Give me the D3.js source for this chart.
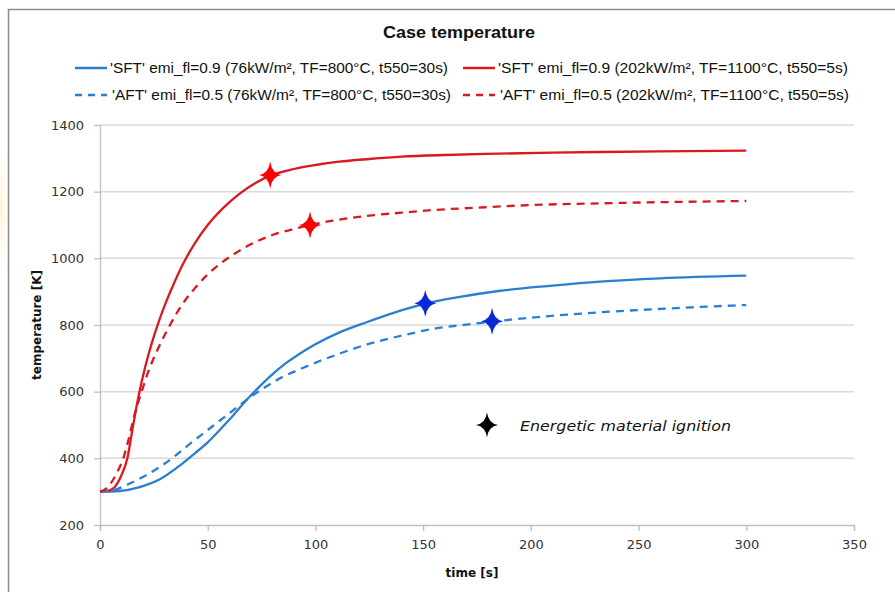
<!DOCTYPE html>
<html>
<head>
<meta charset="utf-8">
<script src="https://cdn.jsdelivr.net/npm/d3@7"></script>
<style>
  body { margin: 0; background: #fff; }
  svg { display: block; }
</style>
</head>
<body>
<div id="chart"></div>
<script>
// data
var xTicks = [0, 50, 100, 150, 200, 250, 300, 350];
var yTicks = [200, 400, 600, 800, 1000, 1200, 1400];

var sftLowTime = [0, 9, 18, 28, 37, 44, 50, 56, 62, 68, 74, 80, 86, 92, 100, 112, 124, 137, 151, 165, 185, 210, 232, 260, 300];
var sftLowTemp = [300, 302, 313, 338, 378, 415, 448, 488, 530, 575, 615, 652, 684, 711, 742, 780, 809, 838, 864, 882, 902, 918, 930, 940, 948];

var aftLowTime = [0, 8, 14, 21, 28, 35, 42, 49, 56, 62, 68, 77, 85, 93, 102, 112, 124, 140, 155, 170, 182, 200, 232, 265, 300];
var aftLowTemp = [300, 308, 325, 348, 375, 408, 445, 480, 515, 545, 575, 615, 645, 668, 692, 716, 742, 768, 789, 801, 810, 822, 838, 850, 860];

var sftHighTime = [0, 4, 7, 10, 12.7, 15, 18, 21, 24, 27, 30, 34, 38.7, 44, 50, 57, 65, 72, 79, 90, 100, 111, 125, 140, 160, 185, 210, 232, 260, 300];
var sftHighTemp = [300, 303, 315, 350, 400, 485, 590, 675, 745, 805, 858, 920, 985, 1045, 1100, 1150, 1195, 1225, 1248, 1268, 1280, 1290, 1298, 1305, 1310, 1314, 1317, 1319, 1321, 1323];

var aftHighTime = [0, 3, 6, 8.5, 10.8, 13, 16, 19.3, 23, 27, 32.5, 38, 44, 50, 56, 62, 70, 80, 90, 97.5, 108, 125, 140, 155, 175, 201, 232, 265, 300];
var aftHighTemp = [300, 310, 335, 365, 400, 450, 530, 600, 670, 730, 800, 860, 910, 952, 985, 1012, 1042, 1070, 1088, 1100, 1113, 1128, 1137, 1145, 1152, 1160, 1165, 1169, 1172];

var seriesNames = [
  "'SFT' emi_fl=0.9 (76kW/m², TF=800°C, t550=30s)",
  "'SFT' emi_fl=0.9 (202kW/m², TF=1100°C, t550=5s)",
  "'AFT' emi_fl=0.5 (76kW/m², TF=800°C, t550=30s)",
  "'AFT' emi_fl=0.5 (202kW/m², TF=1100°C, t550=5s)"
];

var igniteTime = [79, 97.5, 151, 182];
var igniteTemp = [1250, 1100, 865, 811];
var igniteKind = ["red", "red", "blue", "blue"];

var blue = "#2a7fd0";
var red = "#d91920";

var svgWidth = 895, svgHeight = 592;
var margin = {top: 125, right: 41, bottom: 67, left: 100};
var width = svgWidth - margin.left - margin.right;
var height = svgHeight - margin.top - margin.bottom;

var svg = d3.select("#chart").append("svg")
  .attr("width", svgWidth)
  .attr("height", svgHeight);

// faint glow on the far left, outside the frame
var defs = svg.append("defs");
var grad = defs.append("radialGradient").attr("id", "glow");
grad.append("stop").attr("offset", "0%").attr("stop-color", "#fff3d6");
grad.append("stop").attr("offset", "100%").attr("stop-color", "#ffffff").attr("stop-opacity", 0);
svg.append("ellipse")
  .attr("cx", 0).attr("cy", 210).attr("rx", 14).attr("ry", 90)
  .attr("fill", "url(#glow)");

// outer frame
svg.append("rect")
  .attr("x", 8.5).attr("y", 9.5)
  .attr("width", 900).attr("height", 600)
  .attr("fill", "#fff")
  .attr("stroke", "#8a8a8a")
  .attr("stroke-width", 1.5);

var chartGroup = svg.append("g")
  .attr("transform", `translate(${margin.left}, ${margin.top})`);

var xScale = d3.scaleLinear().domain([0, 350]).range([0, width]);
var yScale = d3.scaleLinear().domain([200, 1400]).range([height, 0]);

// gridlines
chartGroup.append("g")
  .selectAll("line")
  .data(yTicks.slice(1))
  .enter()
  .append("line")
  .attr("x1", 0)
  .attr("x2", width)
  .attr("y1", d => yScale(d))
  .attr("y2", d => yScale(d))
  .attr("stroke", "#d9d9d9")
  .attr("stroke-width", 1.5);

// axes
var xAxis = d3.axisBottom(xScale).tickValues(xTicks).tickFormat(d3.format("d"))
  .tickSizeInner(6).tickSizeOuter(6).tickPadding(9);
var yAxis = d3.axisLeft(yScale).tickValues(yTicks).tickFormat(d3.format("d"))
  .tickSizeInner(6).tickSizeOuter(0).tickPadding(10);

var gx = chartGroup.append("g")
  .attr("transform", `translate(0,${height})`)
  .call(xAxis);
var gy = chartGroup.append("g").call(yAxis);

[gx, gy].forEach(function (g) {
  g.selectAll("path, line").attr("stroke", "#bfbfbf").attr("stroke-width", 1.3);
  g.selectAll("text")
    .attr("fill", "#333")
    .attr("font-family", "'DejaVu Sans', Verdana, sans-serif")
    .attr("font-size", 13);
});

// curves
var line = d3.line()
  .x(d => xScale(d[0]))
  .y(d => yScale(d[1]))
  .curve(d3.curveMonotoneX);

var series = [
  {time: sftLowTime, temp: sftLowTemp, color: blue, dash: null},
  {time: sftHighTime, temp: sftHighTemp, color: red, dash: null},
  {time: aftLowTime, temp: aftLowTemp, color: blue, dash: "8,6"},
  {time: aftHighTime, temp: aftHighTemp, color: red, dash: "8,6"}
];

series.forEach(function (s) {
  chartGroup.append("path")
    .datum(d3.zip(s.time, s.temp))
    .attr("d", line)
    .attr("fill", "none")
    .attr("stroke", s.color)
    .attr("stroke-width", 2.3)
    .attr("stroke-dasharray", s.dash);
});

// ignition stars
function star(w, h, k) {
  return `M0,${-h} Q${k},${-k} ${w},0 Q${k},${k} 0,${h} Q${-k},${k} ${-w},0 Q${-k},${-k} 0,${-h} Z`;
}
var starColors = {red: "#ff0000", blue: "#0a28d8"};

chartGroup.selectAll(".ignite")
  .data(d3.range(igniteTime.length))
  .enter()
  .append("path")
  .attr("class", "ignite")
  .attr("transform", i => `translate(${xScale(igniteTime[i])},${yScale(igniteTemp[i])})`)
  .attr("d", star(11, 13.5, 1.6))
  .attr("fill", i => starColors[igniteKind[i]]);

// annotation
svg.append("path")
  .attr("transform", "translate(487,425)")
  .attr("d", star(11, 12.5, 1.5))
  .attr("fill", "#000");

svg.append("text")
  .attr("x", 520)
  .attr("y", 431)
  .attr("font-family", "'DejaVu Sans', Verdana, sans-serif")
  .attr("font-style", "italic")
  .attr("font-size", 14)
  .attr("fill", "#111")
  .attr("textLength", 211)
  .attr("lengthAdjust", "spacingAndGlyphs")
  .text("Energetic material ignition");

// title
svg.append("text")
  .attr("x", 459)
  .attr("y", 38)
  .attr("text-anchor", "middle")
  .attr("font-family", "'Liberation Sans Narrow', 'Liberation Sans', Arial, sans-serif")
  .attr("font-weight", "bold")
  .attr("font-size", 17)
  .attr("fill", "#111")
  .attr("textLength", 152)
  .attr("lengthAdjust", "spacingAndGlyphs")
  .text("Case temperature");

// legend
var legendPos = [
  {x: 75, y: 68, tx: 110, tl: 338},
  {x: 463, y: 68, tx: 498, tl: 350},
  {x: 75, y: 95, tx: 112, tl: 339},
  {x: 463, y: 95, tx: 500, tl: 349}
];

var legend = svg.append("g");
series.forEach(function (s, i) {
  var p = legendPos[i];
  legend.append("line")
    .attr("x1", p.x).attr("x2", p.x + 32)
    .attr("y1", p.y).attr("y2", p.y)
    .attr("stroke", s.color)
    .attr("stroke-width", 2.5)
    .attr("stroke-dasharray", s.dash ? "7,6" : null);
  legend.append("text")
    .attr("x", p.tx)
    .attr("y", p.y + 5)
    .attr("font-family", "'Liberation Sans Narrow', 'Liberation Sans', Arial, sans-serif")
    .attr("font-size", 14)
    .attr("fill", "#111")
    .attr("textLength", p.tl)
    .attr("lengthAdjust", "spacingAndGlyphs")
    .text(seriesNames[i]);
});

// axis titles
svg.append("text")
  .attr("x", 472)
  .attr("y", 577)
  .attr("text-anchor", "middle")
  .attr("font-family", "'DejaVu Sans', Verdana, sans-serif")
  .attr("font-weight", "bold")
  .attr("font-size", 12)
  .attr("fill", "#111")
  .text("time [s]");

svg.append("text")
  .attr("transform", "rotate(-90)")
  .attr("x", -(margin.top + height / 2))
  .attr("y", 41)
  .attr("text-anchor", "middle")
  .attr("font-family", "'DejaVu Sans', Verdana, sans-serif")
  .attr("font-weight", "bold")
  .attr("font-size", 12)
  .attr("fill", "#111")
  .text("temperature [K]");
</script>
</body>
</html>
